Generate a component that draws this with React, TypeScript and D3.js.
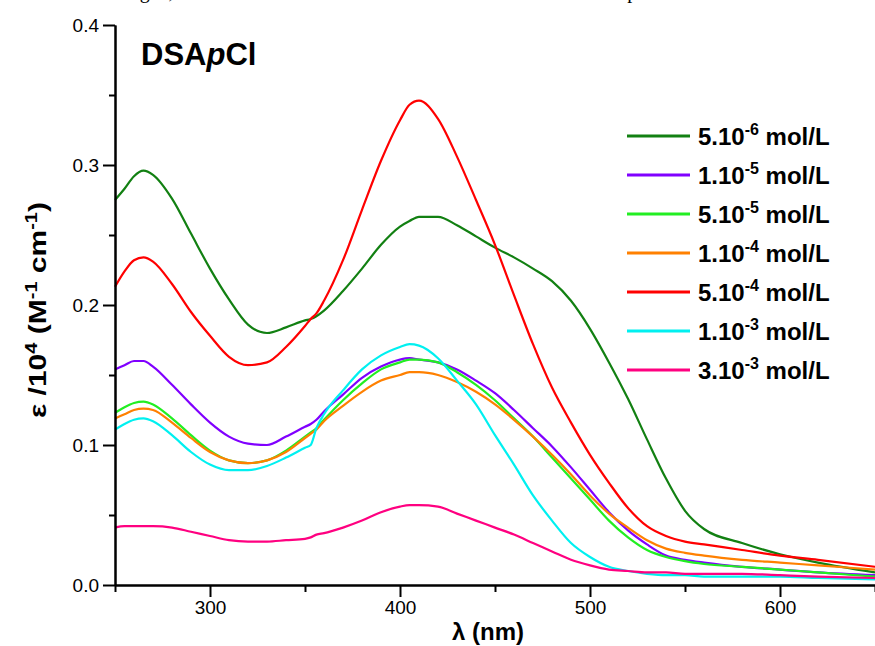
import React, { useRef, useEffect } from "react";
import * as d3 from "d3";

// wavelength grid (nm) shared by every spectrum
const wavelengths = [
  250, 255, 260, 265, 270, 280, 290, 300, 310, 320, 330, 340, 350, 353, 356, 360,
  370, 380, 390, 400, 405, 410, 420, 430, 440, 450, 460, 470, 480, 490, 500, 510,
  520, 530, 540, 550, 560, 580, 600, 620, 650,
];

const eps5e6 = [
  0.275, 0.283, 0.292, 0.296, 0.293, 0.276, 0.251, 0.226, 0.204, 0.186, 0.180, 0.184, 0.189, 0.190, 0.192, 0.196,
  0.210, 0.226, 0.243, 0.256, 0.260, 0.263, 0.263, 0.257, 0.249, 0.241, 0.234, 0.226, 0.217, 0.203, 0.183, 0.159,
  0.133, 0.104, 0.076, 0.053, 0.040, 0.030, 0.022, 0.016, 0.009,
];
const eps1e5 = [
  0.154, 0.157, 0.160, 0.160, 0.156, 0.143, 0.129, 0.116, 0.106, 0.101, 0.100, 0.106, 0.113, 0.115, 0.118, 0.124,
  0.136, 0.148, 0.156, 0.161, 0.162, 0.161, 0.159, 0.154, 0.146, 0.137, 0.125, 0.112, 0.099, 0.084, 0.068, 0.052,
  0.039, 0.029, 0.021, 0.018, 0.016, 0.013, 0.011, 0.009, 0.007,
];
const eps5e5 = [
  0.123, 0.127, 0.130, 0.131, 0.129, 0.119, 0.107, 0.096, 0.089, 0.087, 0.089, 0.096, 0.106, 0.109, 0.112, 0.118,
  0.132, 0.144, 0.154, 0.159, 0.161, 0.161, 0.159, 0.152, 0.143, 0.132, 0.119, 0.106, 0.091, 0.076, 0.061, 0.046,
  0.034, 0.025, 0.020, 0.017, 0.015, 0.013, 0.011, 0.009, 0.006,
];
const eps1e4 = [
  0.119, 0.122, 0.125, 0.126, 0.125, 0.116, 0.105, 0.095, 0.089, 0.087, 0.089, 0.095, 0.105, 0.108, 0.111, 0.117,
  0.128, 0.138, 0.146, 0.150, 0.152, 0.152, 0.150, 0.145, 0.138, 0.129, 0.118, 0.106, 0.093, 0.079, 0.064, 0.051,
  0.041, 0.032, 0.026, 0.023, 0.021, 0.018, 0.016, 0.014, 0.011,
];
const eps5e4 = [
  0.213, 0.224, 0.232, 0.234, 0.231, 0.215, 0.195, 0.178, 0.163, 0.157, 0.159, 0.170, 0.185, 0.190, 0.194, 0.203,
  0.232, 0.268, 0.303, 0.332, 0.343, 0.346, 0.333, 0.306, 0.275, 0.243, 0.207, 0.172, 0.141, 0.116, 0.093, 0.073,
  0.055, 0.042, 0.035, 0.031, 0.029, 0.025, 0.021, 0.018, 0.013,
];
const eps1e3 = [
  0.111, 0.115, 0.118, 0.119, 0.117, 0.107, 0.095, 0.086, 0.082, 0.082, 0.085, 0.091, 0.098, 0.100, 0.112, 0.122,
  0.139, 0.154, 0.164, 0.170, 0.172, 0.171, 0.162, 0.146, 0.129, 0.107, 0.086, 0.064, 0.046, 0.030, 0.020, 0.013,
  0.010, 0.008, 0.007, 0.007, 0.006, 0.006, 0.006, 0.005, 0.004,
];
const eps3e3 = [
  0.041, 0.042, 0.042, 0.042, 0.042, 0.041, 0.038, 0.035, 0.032, 0.031, 0.031, 0.032, 0.033, 0.034, 0.036, 0.037,
  0.041, 0.046, 0.052, 0.056, 0.057, 0.057, 0.056, 0.051, 0.046, 0.041, 0.036, 0.030, 0.024, 0.018, 0.014, 0.011,
  0.010, 0.009, 0.009, 0.008, 0.008, 0.008, 0.007, 0.006, 0.005,
];

const legendMantissa = ["5.10", "1.10", "5.10", "1.10", "5.10", "1.10", "3.10"];
const legendExponent = ["-6", "-5", "-5", "-4", "-4", "-3", "-3"];
const seriesColors = ["#128012", "#8000ff", "#22ee22", "#ff8000", "#ff0000", "#00f0f0", "#ff0080"];
const seriesValues = [eps5e6, eps1e5, eps5e5, eps1e4, eps5e4, eps1e3, eps3e3];

const xTicks = [300, 400, 500, 600];
const yTicks = [0, 0.1, 0.2, 0.3, 0.4];

const bodyText =
  "concentration was changed, and an increase of the total molar extinction at the absorption maximum was observed in the spectra";

export default function App() {
  const svgRef = useRef<SVGSVGElement>(null);

  useEffect(() => {
    const width = 875;
    const height = 646;
    const margin = { top: 25, right: 0, bottom: 61, left: 115 };
    const font = "'Liberation Sans', Arial, sans-serif";

    const svg = d3.select(svgRef.current);
    svg.selectAll("*").remove();
    svg.attr("width", width).attr("height", height);

    const x = d3.scaleLinear().domain([250, 650]).range([margin.left, width - margin.right]);
    const y = d3.scaleLinear().domain([0, 0.4]).range([height - margin.bottom, margin.top]);

    // bottom edge of the surrounding document's text line, cut by the page edge
    svg.append("text")
      .attr("x", -48)
      .attr("y", -2)
      .attr("font-family", "'Liberation Serif', 'Times New Roman', serif")
      .attr("font-size", 20)
      .attr("fill", "#000")
      .text(bodyText);

    // curves
    const line = d3.line<number>()
      .x((d, i) => x(wavelengths[i]))
      .y(d => y(d))
      .curve(d3.curveMonotoneX);

    const plot = svg.append("g");
    seriesValues.forEach((vals, i) => {
      plot.append("path")
        .datum(vals)
        .attr("fill", "none")
        .attr("stroke", seriesColors[i])
        .attr("stroke-width", 2.2)
        .attr("d", line);
    });

    // x axis
    const xAxis = svg.append("g")
      .attr("transform", `translate(0,${y(0)})`)
      .call(d3.axisBottom(x).tickValues(xTicks).tickSize(12).tickPadding(4).tickSizeOuter(0).tickFormat(d3.format("d")));
    svg.append("g")
      .attr("transform", `translate(0,${y(0)})`)
      .call(d3.axisBottom(x).tickValues([250, 350, 450, 550, 650]).tickSize(7).tickSizeOuter(0).tickFormat(() => ""));

    // y axis
    const yAxis = svg.append("g")
      .attr("transform", `translate(${margin.left},0)`)
      .call(d3.axisLeft(y).tickValues(yTicks).tickSize(12).tickPadding(4).tickSizeOuter(0).tickFormat(d3.format(".1f")));
    svg.append("g")
      .attr("transform", `translate(${margin.left},0)`)
      .call(d3.axisLeft(y).tickValues([0.05, 0.15, 0.25, 0.35]).tickSize(6).tickSizeOuter(0).tickFormat(() => ""));

    svg.selectAll(".domain, .tick line").attr("stroke", "#000").attr("stroke-width", 2);
    [xAxis, yAxis].forEach(g =>
      g.selectAll("text").attr("font-family", font).attr("font-size", 19).attr("fill", "#000")
    );

    // axis titles
    svg.append("text")
      .attr("x", 488)
      .attr("y", 640)
      .attr("text-anchor", "middle")
      .attr("font-family", font)
      .attr("font-size", 24)
      .attr("font-weight", "bold")
      .text("λ (nm)");

    const yTitle = svg.append("text")
      .attr("transform", "translate(46,310) rotate(-90)")
      .attr("text-anchor", "middle")
      .attr("font-family", font)
      .attr("font-size", 24)
      .attr("font-weight", "bold")
      .attr("textLength", 216)
      .attr("lengthAdjust", "spacingAndGlyphs");
    const parts: [string, boolean][] = [["ε /10", false], ["4", true], [" (M", false], ["-1", true], [" cm", false], ["-1", true], [")", false]];
    let raised = false;
    parts.forEach(([t, sup]) => {
      const ts = yTitle.append("tspan").text(t);
      if (sup && !raised) { ts.attr("dy", -9).attr("font-size", 16); raised = true; }
      else if (sup) { ts.attr("font-size", 16); }
      else if (raised) { ts.attr("dy", 9); raised = false; }
    });

    // compound label
    const label = svg.append("text")
      .attr("x", 141)
      .attr("y", 65)
      .attr("font-family", font)
      .attr("font-size", 31)
      .attr("font-weight", "bold");
    label.append("tspan").text("DSA");
    label.append("tspan").attr("font-style", "italic").text("p");
    label.append("tspan").text("Cl");

    // legend
    const legend = svg.append("g");
    legendMantissa.forEach((m, i) => {
      const ly = 136 + i * 39;
      legend.append("line")
        .attr("x1", 627).attr("x2", 690)
        .attr("y1", ly).attr("y2", ly)
        .attr("stroke", seriesColors[i])
        .attr("stroke-width", 3);
      const t = legend.append("text")
        .attr("x", 698)
        .attr("y", ly + 9)
        .attr("font-family", font)
        .attr("font-size", 24)
        .attr("font-weight", "bold");
      t.append("tspan").text(m);
      t.append("tspan").attr("dy", -10).attr("font-size", 16).text(legendExponent[i]);
      t.append("tspan").attr("dy", 10).text(" mol/L");
    });
  }, []);

  return (
    <svg
      ref={svgRef}
      style={{ position: "absolute", left: 0, top: 0, display: "block", background: "#fff" }}
    ></svg>
  );
}
